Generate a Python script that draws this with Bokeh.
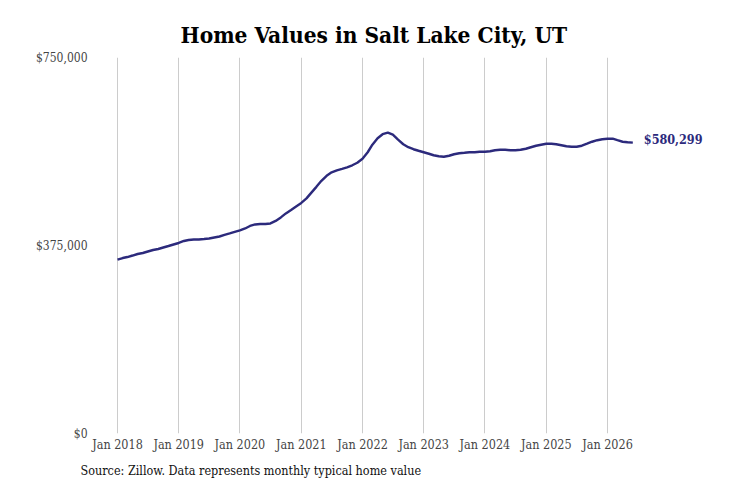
import pandas as pd
from bokeh.plotting import figure
from bokeh.models import (Range1d, FixedTicker, NumeralTickFormatter,
                          DatetimeTickFormatter, Label, Title)
from bokeh.embed import file_html
from bokeh.resources import INLINE

FONT = "DejaVu Serif Condensed"
LINE_COLOR = "#2c2a7c"

start_month = "2018-01-01"
# Monthly typical home value, Jan 2018 - Jun 2026 (thousands of dollars)
values_k = [
    347, 350, 352, 355, 358, 360, 363, 366, 368, 371, 374, 377,   # 2018
    380, 384, 386, 387, 387, 388, 389, 391, 393, 396, 399, 402,   # 2019
    405, 409, 414, 417, 418, 418, 419, 424, 431, 439, 446, 453,   # 2020
    460, 469, 480, 492, 504, 514, 521, 525, 528, 531, 535, 540,   # 2021
    548, 561, 576, 589, 597, 600, 596, 586, 577, 571, 567, 564,   # 2022
    561, 558, 555, 553, 552, 554, 557, 559, 560, 561, 561, 562,   # 2023
    562, 563, 565, 566, 566, 565, 565, 566, 568, 571, 574, 576,   # 2024
    578, 578, 577, 575, 573, 572, 572, 574, 578, 582, 585, 587,   # 2025
    588, 588, 585, 582, 581, 580.299,                             # 2026
]
last_label = "$580,299"
year_ticks = ["2018", "2019", "2020", "2021", "2022", "2023", "2024", "2025", "2026"]
y_ticks = [0, 375000, 750000]
title_text = "Home Values in Salt Lake City, UT"
source_text = "Source: Zillow. Data represents monthly typical home value"

dates = pd.date_range(start_month, periods=len(values_k), freq="MS")
values = [v * 1000 for v in values_k]

tick_dates = pd.to_datetime([f"{y}-01-01" for y in year_ticks])
tick_ms = [d.value / 1e6 for d in tick_dates]

# x range: frame from x 95 to 715, Jan 2018 at 117, Jan 2026 at 607
ms_per_px = (tick_ms[-1] - tick_ms[0]) / (607 - 117)
x_start = tick_ms[0] - (117 - 95) * ms_per_px
x_end = tick_ms[0] + (715 - 117) * ms_per_px

p = figure(width=715, height=484, x_axis_type="datetime",
           output_backend="svg", toolbar_location=None,
           x_range=Range1d(x_start, x_end), y_range=Range1d(0, 750000),
           min_border_left=95, min_border_right=0, min_border_top=57,
           min_border_bottom=51)
p.outline_line_color = None
p.background_fill_color = "white"
p.border_fill_color = "white"

p.title = Title(text=title_text, align="left", offset=85,
                text_font=FONT, text_font_size="22.5px", text_font_style="bold",
                text_color="#000000", standoff=20)

p.line(dates, values, line_color=LINE_COLOR, line_width=2.4)

p.add_layout(Label(x=dates[-1], y=values[-1], text=last_label,
                   x_offset=11, y_offset=3, text_baseline="middle",
                   text_font=FONT, text_font_size="12.5px",
                   text_font_style="bold", text_color=LINE_COLOR))

p.add_layout(Title(text=source_text, align="left", offset=-15, standoff=12,
                   text_font=FONT, text_font_size="12.5px",
                   text_font_style="normal", text_color="#111111"), "below")

xa = p.xaxis[0]
xa.ticker = FixedTicker(ticks=tick_ms)
xa.formatter = DatetimeTickFormatter(years="%b %Y", months="%b %Y",
                                     days="%b %Y", hours="%b %Y")
xa.axis_line_color = None
xa.major_tick_line_color = None
xa.minor_tick_line_color = None
xa.major_tick_out = 0
xa.major_tick_in = 0
xa.minor_tick_out = 0
xa.major_label_text_font = FONT
xa.major_label_text_font_size = "12.5px"
xa.major_label_text_color = "#444444"
xa.major_label_standoff = 3

ya = p.yaxis[0]
ya.ticker = FixedTicker(ticks=y_ticks)
ya.formatter = NumeralTickFormatter(format="$0,0")
ya.axis_line_color = None
ya.major_tick_line_color = None
ya.minor_tick_line_color = None
ya.major_tick_out = 0
ya.major_tick_in = 0
ya.minor_tick_out = 0
ya.major_label_text_font = FONT
ya.major_label_text_font_size = "12px"
ya.major_label_text_color = "#444444"
ya.major_label_standoff = 8

p.xgrid.grid_line_color = "#cccccc"
p.xgrid.grid_line_width = 1
p.ygrid.grid_line_color = None

open("out.html", "w").write(file_html(p, INLINE))
